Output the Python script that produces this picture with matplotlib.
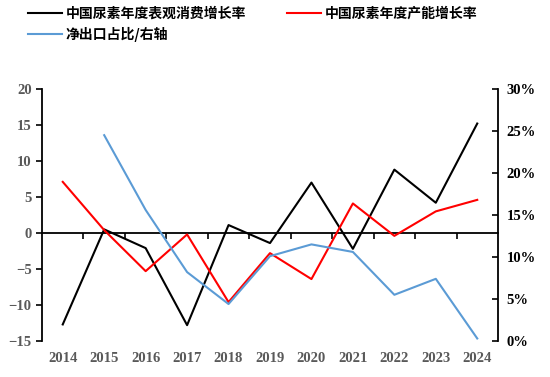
import matplotlib
matplotlib.use('Agg')
import matplotlib.pyplot as plt
from matplotlib.ticker import FuncFormatter

plt.rcParams['font.family'] = ['Liberation Serif', 'Noto Sans CJK SC']

years = ['2014', '2015', '2016', '2017', '2018', '2019', '2020', '2021', '2022', '2023', '2024']
consumption_growth = [-12.7, 0.5, -2.1, -12.8, 1.1, -1.4, 7.0, -2.2, 8.8, 4.2, 15.2]
capacity_growth = [7.1, 0.4, -5.3, -0.2, -9.6, -2.8, -6.4, 4.1, -0.4, 3.0, 4.6]
export_years = years[1:]
export_share = [24.5, 15.6, 8.2, 4.4, 10.1, 11.5, 10.6, 5.5, 7.4, 0.3]

label_black = '中国尿素年度表观消费增长率'
label_red = '中国尿素年度产能增长率'
label_blue = '净出口占比/右轴'

fig = plt.figure(figsize=(5.5, 3.77), dpi=100)
ax = fig.add_axes([0.0764, 0.0955, 0.829, 0.6685])
ax2 = ax.twinx()

x = list(range(len(years)))
x_exp = [years.index(y) for y in export_years]

l1, = ax.plot(x, consumption_growth, color='black', lw=1.5, label=label_black)
l2, = ax.plot(x, capacity_growth, color='#FF0000', lw=1.5, label=label_red)
l3, = ax2.plot(x_exp, export_share, color='#5B9BD5', lw=1.5, label=label_blue)

ax.set_xlim(-0.5, len(years) - 0.5)
ax.set_ylim(-15, 20)
ax.set_yticks(range(-15, 21, 5))
ax2.set_ylim(0, 30)
ax2.set_yticks(range(0, 31, 5))
ax2.yaxis.set_major_formatter(FuncFormatter(lambda v, p: f'{v:.0f}%'))

for a in (ax, ax2):
    a.spines['top'].set_visible(False)
    a.spines['bottom'].set_visible(False)
ax.spines['right'].set_visible(False)
ax2.spines['left'].set_visible(False)
ax.spines['left'].set_linewidth(1.3)
ax2.spines['right'].set_linewidth(1.3)

ax.set_xticks(x)
ax.set_xticklabels(years)
ax.tick_params(axis='x', length=0, pad=8, labelsize=10.5, labelcolor='#595959')
ax.tick_params(axis='y', direction='out', length=4, width=1.2, labelsize=10.5, labelcolor='#595959')
ax2.tick_params(axis='y', direction='in', length=4, width=1.2, labelsize=10.5, labelcolor='black', pad=6)
for lab in ax.get_xticklabels() + ax.get_yticklabels() + ax2.get_yticklabels():
    lab.set_fontweight('bold')

# zero line with category boundary ticks
zero_ax = ax.secondary_xaxis(0, transform=ax.transData)
zero_ax.spines['bottom'].set_linewidth(1.3)
zero_ax.set_xticks([i + 0.5 for i in x[:-1]])
zero_ax.tick_params(axis='x', direction='out', length=4, width=1.2, labelbottom=False)

fig.legend(handles=[l1, l3, l2], loc='upper left', bbox_to_anchor=(0.038, 1.0),
           ncol=2, frameon=False, borderpad=0, handlelength=2.45, handletextpad=0.25,
           columnspacing=3.0, labelspacing=0.45,
           prop={'family': ['Noto Sans CJK SC'], 'weight': 'bold', 'size': 10})

fig.savefig('out.png', dpi=100)
